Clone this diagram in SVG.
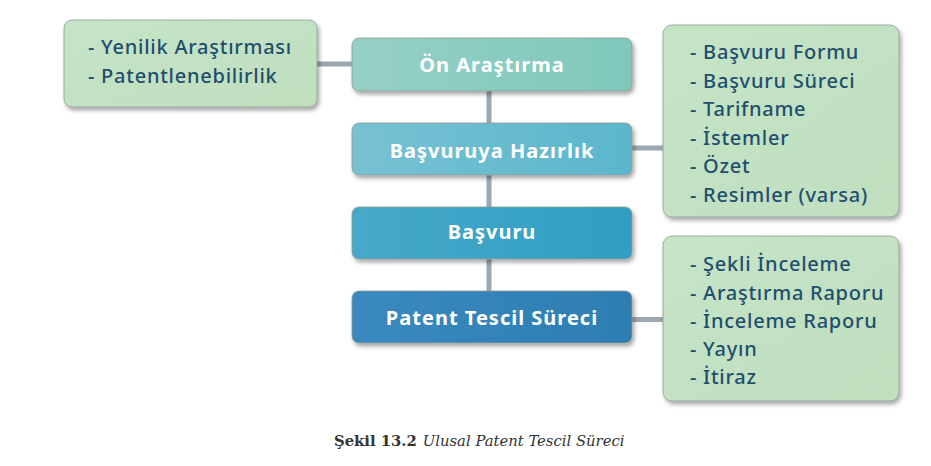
<svg xmlns="http://www.w3.org/2000/svg" width="931" height="466" viewBox="0 0 931 466">
<defs>
<filter id="sh" x="-10%" y="-20%" width="125%" height="150%">
<feDropShadow dx="2" dy="3" stdDeviation="2.2" flood-color="#000" flood-opacity="0.35"/>
</filter>
<linearGradient id="gGreen" x1="0" y1="0" x2="1" y2="1">
<stop offset="0" stop-color="#c6e4c6"/><stop offset="1" stop-color="#bfdfbf"/>
</linearGradient>
<linearGradient id="g1" x1="0" y1="0" x2="1" y2="0">
<stop offset="0" stop-color="#96d0c5"/><stop offset="1" stop-color="#7fc8bb"/>
</linearGradient>
<linearGradient id="g2" x1="0" y1="0" x2="1" y2="0">
<stop offset="0" stop-color="#78c1d3"/><stop offset="1" stop-color="#5bb6cc"/>
</linearGradient>
<linearGradient id="g3" x1="0" y1="0" x2="1" y2="0">
<stop offset="0" stop-color="#47a8ca"/><stop offset="1" stop-color="#2f9fc2"/>
</linearGradient>
<linearGradient id="g4" x1="0" y1="0" x2="1" y2="0">
<stop offset="0" stop-color="#3a89bf"/><stop offset="1" stop-color="#2e7eb2"/>
</linearGradient>
</defs>
<style>
.conn{fill:#9ba7b3;}
.box{stroke:#8f9a96;stroke-width:0.8;filter:url(#sh);}
.note{fill:url(#gGreen);}
.title{font-family:"Noto Sans","DejaVu Sans",sans-serif;font-weight:700;font-size:20px;letter-spacing:1px;fill:#ffffff;text-anchor:middle;}
.item{font-family:"Noto Sans","DejaVu Sans",sans-serif;font-weight:500;font-size:20px;letter-spacing:0.75px;fill:#1f4e6e;}
.capb{font-family:"DejaVu Serif",serif;font-weight:700;font-size:14.8px;fill:#333333;}
.capi{font-family:"DejaVu Serif",serif;font-style:italic;font-size:14.8px;fill:#333333;}
</style>
<g id="connectors">
<rect class="conn" x="486.5" y="90" width="5" height="202"/>
<rect class="conn" x="316" y="61.5" width="37" height="5"/>
<rect class="conn" x="631" y="145.5" width="34" height="5"/>
<rect class="conn" x="631" y="317" width="34" height="5"/>
</g>
<g id="note-left">
<rect class="box note" x="64" y="20" width="253" height="87" rx="8"/>
<text class="item" x="88" y="54">- Yenilik Araştırması</text>
<text class="item" x="88" y="83">- Patentlenebilirlik</text>
</g>
<g id="node-on-arastirma">
<rect class="box" fill="url(#g1)" x="352" y="38" width="280" height="53" rx="7"/>
<text class="title" x="492" y="72">Ön Araştırma</text>
</g>
<g id="node-basvuruya-hazirlik">
<rect class="box" fill="url(#g2)" x="352" y="123" width="280" height="52" rx="7"/>
<text class="title" x="492" y="158">Başvuruya Hazırlık</text>
</g>
<g id="node-basvuru">
<rect class="box" fill="url(#g3)" x="352" y="207" width="280" height="52" rx="7"/>
<text class="title" x="492" y="239">Başvuru</text>
</g>
<g id="node-patent-tescil">
<rect class="box" fill="url(#g4)" x="352" y="291" width="280" height="52" rx="7"/>
<text class="title" x="492" y="325">Patent Tescil Süreci</text>
</g>
<g id="note-basvuru">
<rect class="box note" x="663" y="25" width="236" height="192" rx="9"/>
<text class="item" x="690" y="59">- Başvuru Formu</text>
<text class="item" x="690" y="88">- Başvuru Süreci</text>
<text class="item" x="690" y="116">- Tarifname</text>
<text class="item" x="690" y="145">- İstemler</text>
<text class="item" x="690" y="173">- Özet</text>
<text class="item" x="690" y="202">- Resimler (varsa)</text>
</g>
<g id="note-tescil">
<rect class="box note" x="663" y="236" width="236" height="165" rx="9"/>
<text class="item" x="690" y="271">- Şekli İnceleme</text>
<text class="item" x="690" y="300">- Araştırma Raporu</text>
<text class="item" x="690" y="328">- İnceleme Raporu</text>
<text class="item" x="690" y="356">- Yayın</text>
<text class="item" x="690" y="384">- İtiraz</text>
</g>
<g id="caption">
<text x="334" y="446"><tspan class="capb">Şekil 13.2</tspan><tspan class="capi" dx="6">Ulusal Patent Tescil Süreci</tspan></text>
</g>
</svg>
